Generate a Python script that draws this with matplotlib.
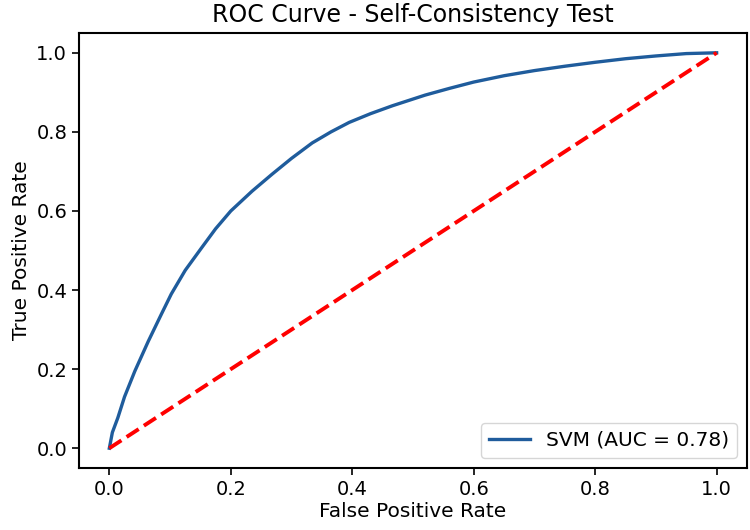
import matplotlib
matplotlib.use('Agg')
import matplotlib.pyplot as plt

# ROC points
fpr = [0.0, 0.005, 0.014, 0.025, 0.042, 0.064, 0.086, 0.102, 0.125, 0.152, 0.175, 0.2,
       0.235, 0.268, 0.3, 0.334, 0.365, 0.395, 0.43, 0.466, 0.52, 0.56, 0.6, 0.65,
       0.7, 0.75, 0.8, 0.85, 0.9, 0.95, 1.0]
tpr = [0.0, 0.04, 0.077, 0.13, 0.195, 0.27, 0.34, 0.39, 0.45, 0.507, 0.555, 0.6,
       0.65, 0.693, 0.733, 0.772, 0.80, 0.824, 0.846, 0.866, 0.893, 0.91, 0.926, 0.942,
       0.955, 0.966, 0.976, 0.985, 0.992, 0.998, 1.0]
auc_value = 0.78

plt.rcParams['font.size'] = 14
plt.rcParams['xtick.major.size'] = 5
plt.rcParams['ytick.major.size'] = 5
plt.rcParams['xtick.major.width'] = 1.2
plt.rcParams['ytick.major.width'] = 1.2

fig = plt.figure(figsize=(7.5, 5.3), dpi=100)
ax = fig.add_axes([0.1053, 0.117, 0.8907, 0.8207])
ax.plot(fpr, tpr, color='#1f5c9c', lw=2.4, label=f'SVM (AUC = {auc_value:.2f})')
ax.plot([0, 1], [0, 1], color='red', lw=2.8, linestyle='--')
ax.set_xlabel('False Positive Rate', fontsize=14.5, labelpad=2)
ax.set_ylabel('True Positive Rate', fontsize=14.5, labelpad=4)
ax.set_title('ROC Curve - Self-Consistency Test', fontsize=17, pad=8)
ax.legend(loc='lower right', fontsize=14.5, handlelength=2.0)
for s in ax.spines.values():
    s.set_linewidth(1.5)
fig.savefig('out.png')
